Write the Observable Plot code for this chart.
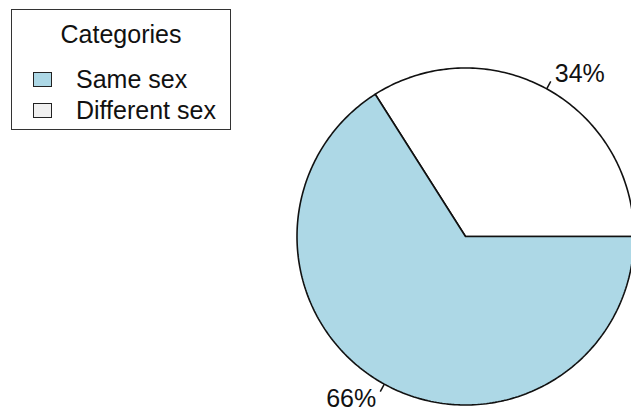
<!DOCTYPE html>
<html>
<head>
<meta charset="utf-8">
<script src="https://cdn.jsdelivr.net/npm/d3@7"></script>
<script src="https://cdn.jsdelivr.net/npm/@observablehq/plot@0.6"></script>
<style>
  html, body { margin: 0; padding: 0; background: #fff; }
  #wrap { position: relative; width: 631px; height: 413px; overflow: hidden; font-family: "Liberation Sans", Arial, Helvetica, sans-serif; }
  #legend { position: absolute; left: 11px; top: 9px; width: 218px; height: 119px; border: 1.5px solid #333; background: #fff; box-sizing: content-box; }
  #legend .title { position: absolute; left: 0; width: 100%; top: 12px; text-align: center; font-size: 25px; color: #111; line-height: 1; }
  #legend .item { position: absolute; left: 21px; font-size: 25px; color: #111; line-height: 1; display: flex; align-items: center; }
  #legend .sw { width: 17px; height: 13px; border: 1.2px solid #222; margin-right: 24px; }
</style>
</head>
<body>
<div id="wrap"></div>
<script>
// ---- data ----
const categories = ["Same sex", "Different sex"];
const values = [66, 34];
const labels = ["66%", "34%"];
const sliceColors = ["#ADD8E6", "#FFFFFF"];
const legendColors = ["#ADD8E6", "#F0F0F0"];
const drawOrder = [1, 0]; // slices laid out counterclockwise from 3 o'clock
const legendTitle = "Categories";

// ---- geometry (unit circle, angles in radians, counterclockwise from +x) ----
const total = d3.sum(values);
let acc = 0;
const slices = drawOrder.map(i => {
  const a0 = acc / total * 2 * Math.PI;
  acc += values[i];
  const a1 = acc / total * 2 * Math.PI;
  return {cat: categories[i], label: labels[i], a0, a1, mid: (a0 + a1) / 2};
});

const polyPts = [];
slices.forEach(s => {
  const n = Math.max(2, Math.ceil((s.a1 - s.a0) / (Math.PI / 180)));
  polyPts.push({cat: s.cat, x: 0, y: 0});
  for (let k = 0; k <= n; k++) {
    const a = s.a0 + (s.a1 - s.a0) * k / n;
    polyPts.push({cat: s.cat, x: Math.cos(a), y: Math.sin(a)});
  }
  polyPts.push({cat: s.cat, x: 0, y: 0});
});

const ticks = slices.map(s => ({
  x1: Math.cos(s.mid), y1: Math.sin(s.mid),
  x2: 1.05 * Math.cos(s.mid), y2: 1.05 * Math.sin(s.mid)
}));
const labelPts = slices.map(s => ({
  x: 1.1 * Math.cos(s.mid), y: 1.1 * Math.sin(s.mid), label: s.label,
  anchor: Math.cos(s.mid) < 0 ? "end" : "start"
}));

// scale: center at (465,236) px, radius 168.5 px
const W = 631, H = 413, cx = 465, cy = 236, R = 168.5;
const xDomain = [-cx / R, (W - cx) / R];
const yDomain = [-(H - cy) / R, cy / R];

const chart = Plot.plot({
  width: W, height: H,
  margin: 0,
  x: {domain: xDomain, range: [0, W], axis: null},
  y: {domain: yDomain, range: [H, 0], axis: null},
  color: {domain: categories, range: sliceColors},
  style: {fontFamily: "'Liberation Sans', Arial, Helvetica, sans-serif", background: "#fff"},
  marks: [
    Plot.line(polyPts, {x: "x", y: "y", z: "cat", fill: "cat", stroke: "#111", strokeWidth: 1.6, curve: "linear", strokeLinejoin: "miter"}),
    Plot.link(ticks, {x1: "x1", y1: "y1", x2: "x2", y2: "y2", stroke: "#111", strokeWidth: 1.5}),
    Plot.text(labelPts.filter(d => d.anchor === "start"), {x: "x", y: "y", text: "label", textAnchor: "start", fontSize: 25, fill: "#111"}),
    Plot.text(labelPts.filter(d => d.anchor === "end"), {x: "x", y: "y", text: "label", textAnchor: "end", fontSize: 25, fill: "#111"})
  ]
});

const wrap = document.getElementById("wrap");
wrap.appendChild(chart);

// legend (overlay, R-style box)
const lg = document.createElement("div");
lg.id = "legend";
const t = document.createElement("div");
t.className = "title";
t.textContent = legendTitle;
lg.appendChild(t);
categories.forEach((c, i) => {
  const it = document.createElement("div");
  it.className = "item";
  it.style.top = (57 + i * 31) + "px";
  const sw = document.createElement("span");
  sw.className = "sw";
  sw.style.background = legendColors[i];
  it.appendChild(sw);
  const tx = document.createElement("span");
  tx.textContent = c;
  it.appendChild(tx);
  lg.appendChild(it);
});
wrap.appendChild(lg);
</script>
</body>
</html>
